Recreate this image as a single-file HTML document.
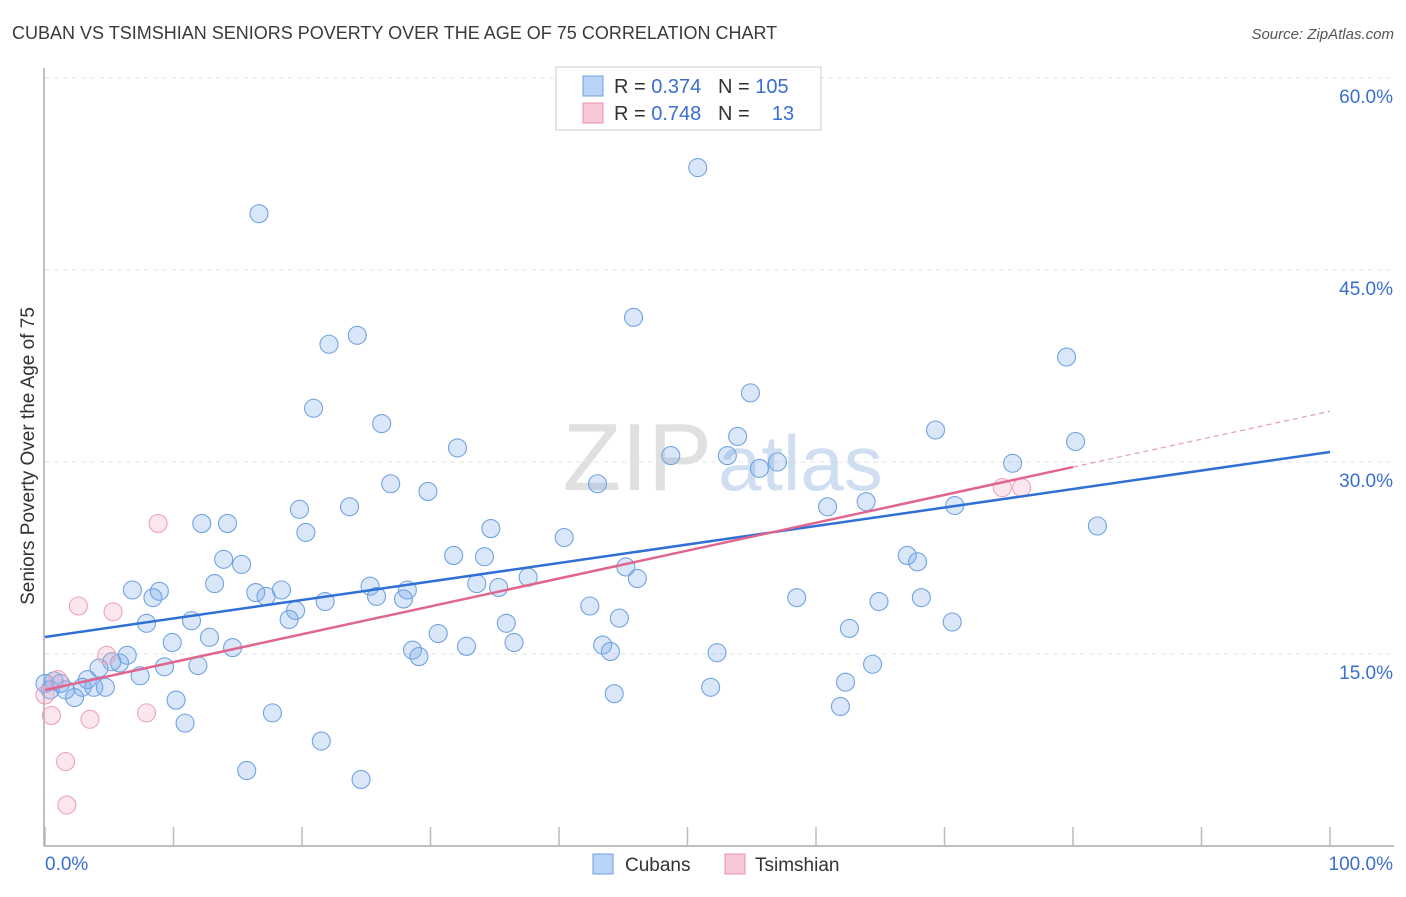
<!DOCTYPE html>
<html><head><meta charset="utf-8"><style>
body{margin:0;background:#fff;font-family:"Liberation Sans",sans-serif}
svg text{font-family:"Liberation Sans",sans-serif}
</style></head><body>
<svg width="1406" height="892" viewBox="0 0 1406 892">
<text x="12" y="39" font-size="18" fill="#3a3a3a">CUBAN VS TSIMSHIAN SENIORS POVERTY OVER THE AGE OF 75 CORRELATION CHART</text>
<text x="1394" y="39" font-size="15" fill="#555" font-style="italic" text-anchor="end">Source: ZipAtlas.com</text>
<g id="grid"></g>
<text x="712" y="490" font-size="96" font-family="Liberation Serif" fill="#e0e0e0" text-anchor="end">ZIP</text>
<text x="718" y="490" font-size="78" fill="#d0def2">atlas</text>
<g id="axes"></g>
<g id="marks"></g>
<text x="34" y="456" font-size="19" fill="#333" text-anchor="middle" transform="rotate(-90 34 456)">Seniors Poverty Over the Age of 75</text>
<g>
<rect x="556" y="67" width="265" height="63" fill="#fff" stroke="#ccc"/>
<rect x="583" y="76" width="20" height="20" fill="#b8d3f5" stroke="#6a9fe0"/>
<text x="614" y="93" font-size="20" fill="#333" xml:space="preserve">R = <tspan fill="#3a6fd0">0.374</tspan>   N = <tspan fill="#3a6fd0">105</tspan></text>
<rect x="583" y="103" width="20" height="20" fill="#f8c8d6" stroke="#e890aa"/>
<text x="614" y="120" font-size="20" fill="#333" xml:space="preserve">R = <tspan fill="#3a6fd0">0.748</tspan>   N =    <tspan fill="#3a6fd0">13</tspan></text>
</g>
<rect x="593" y="854" width="20" height="20" fill="#b8d3f5" stroke="#6a9fe0"/>
<text x="625" y="871" font-size="19" fill="#333">Cubans</text>
<rect x="725" y="854" width="20" height="20" fill="#f8c8d6" stroke="#e890aa"/>
<text x="755" y="871" font-size="19" fill="#333">Tsimshian</text>
</svg>
<script>
const yTicks=[15,30,45,60];
const yTickLabels=["15.0%","30.0%","45.0%","60.0%"];
const xTicks=[0,10,20,30,40,50,60,70,80,90,100];
const cubanX=[16.65,50.8,45.8,24.3,22.1,79.5,20.9,54.9,26.2,69.3,53.9,32.1,80.2,48.7,53.1,57.0,55.6,75.3,26.9,29.8,43.0,23.7,19.8,60.9,63.9,70.8,12.2,14.2,34.7,81.9,20.3,40.4,13.9,15.3,31.8,34.2,67.1,67.9,45.2,37.6,46.1,13.2,6.8,8.9,25.3,33.6,35.3,16.4,18.4,28.2,8.4,17.2,21.8,25.8,27.9,58.5,68.2,64.9,42.4,19.5,19.0,44.7,11.4,7.9,35.9,70.6,62.6,30.6,12.8,9.9,36.5,32.8,43.4,44.0,14.6,28.6,29.1,52.3,6.4,5.2,5.8,4.2,9.3,11.9,64.4,7.4,3.3,0.7,1.2,1.6,2.9,3.8,4.7,2.3,62.3,51.8,44.3,10.2,17.7,61.9,10.9,21.5,15.7,24.6,0.0,0.4];
const cubanY=[49.4,53.0,41.3,39.9,39.2,38.2,34.2,35.4,33.0,32.5,32.0,31.1,31.6,30.5,30.5,30.0,29.5,29.9,28.3,27.7,28.3,26.5,26.3,26.5,26.9,26.6,25.2,25.2,24.8,25.0,24.5,24.1,22.4,22.0,22.7,22.6,22.7,22.2,21.8,21.0,20.9,20.5,20.0,19.9,20.3,20.5,20.2,19.8,20.0,20.0,19.4,19.5,19.1,19.5,19.3,19.4,19.4,19.1,18.75,18.4,17.7,17.8,17.6,17.4,17.4,17.5,17.0,16.6,16.3,15.9,15.9,15.6,15.7,15.2,15.5,15.3,14.8,15.1,14.9,14.4,14.3,13.9,14.0,14.1,14.2,13.3,13.0,12.9,12.7,12.2,12.4,12.4,12.4,11.6,12.8,12.4,11.9,11.4,10.4,10.9,9.6,8.2,5.9,5.2,12.7,12.2];
const tsimX=[8.8,2.6,5.3,4.8,3.5,7.9,0.5,1.6,1.7,74.5,76.0,1.0,0.0];
const tsimY=[25.2,18.75,18.3,14.9,9.9,10.4,10.2,6.6,3.2,28.0,28.0,13.0,11.8];
const cubanTrend=[16.33,30.78];
const tsimTrend=[12.19,33.96];
const NS="http://www.w3.org/2000/svg";
const X=v=>45+v*12.85, Y=v=>846-v*12.8;
function mk(tag,attrs,parent){const e=document.createElementNS(NS,tag);for(const k in attrs)e.setAttribute(k,attrs[k]);document.getElementById(parent).appendChild(e);return e;}
yTicks.forEach((t,i)=>{
 const l=mk('line',{x1:45,x2:1394,y1:Y(t),y2:Y(t),stroke:'#e3e3e3','stroke-dasharray':'5,4'},'grid');
 
 
 const tx=mk('text',{x:1393,y:Y(t)+25,'font-size':19,fill:'#3a6fd0','text-anchor':'end'},'grid');
 tx.textContent=yTickLabels[i];
 
 
});
const ax=mk('line',{x1:44,x2:44,y1:68,y2:846,stroke:'#aaa','stroke-width':1.5},'axes');


const bx=mk('line',{x1:44,x2:1394,y1:846,y2:846,stroke:'#aaa','stroke-width':1.5},'axes');


xTicks.forEach(t=>{
 const l=mk('line',{x1:X(t),x2:X(t),y1:827,y2:846,stroke:'#bbb','stroke-width':1.5},'axes');
 
 
});
const x0=mk('text',{x:45,y:870,'font-size':19,fill:'#3a6fd0'},'axes');x0.textContent='0.0%';


const x1=mk('text',{x:1393,y:870,'font-size':19,fill:'#3a6fd0','text-anchor':'end'},'axes');x1.textContent='100.0%';


cubanX.forEach((v,i)=>{
 const c=mk('circle',{cx:X(v),cy:Y(cubanY[i]),r:9,fill:'rgba(120,170,235,0.28)',stroke:'#72a3e2','stroke-width':1.1},'marks');
 
 
});
tsimX.forEach((v,i)=>{
 const c=mk('circle',{cx:X(v),cy:Y(tsimY[i]),r:9,fill:'rgba(245,165,195,0.28)',stroke:'#eaa5bc','stroke-width':1.1},'marks');
 
 
});
const tb=mk('line',{x1:X(0),y1:Y(cubanTrend[0]),x2:X(100),y2:Y(cubanTrend[1]),stroke:'#2f6fd6','stroke-width':2.5},'marks');


const pe=tsimTrend[0]+(tsimTrend[1]-tsimTrend[0])*0.8;
const tp=mk('line',{x1:X(0),y1:Y(tsimTrend[0]),x2:X(80),y2:Y(pe),stroke:'#e0668f','stroke-width':2.5},'marks');


const td=mk('line',{x1:X(80),y1:Y(pe),x2:X(100),y2:Y(tsimTrend[1]),stroke:'#e89ab2','stroke-width':1.2,'stroke-dasharray':'5,4'},'marks');


</script>
</body></html>
